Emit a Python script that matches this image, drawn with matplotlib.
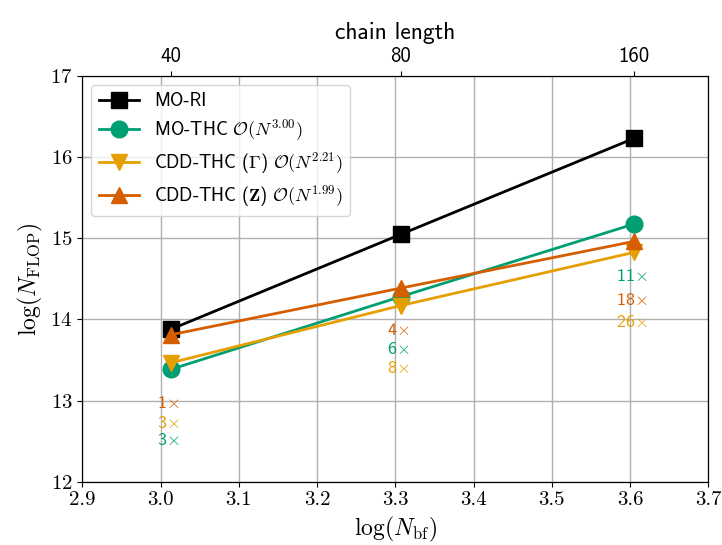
import numpy as np
import matplotlib
matplotlib.use("Agg")
import matplotlib.pyplot as plt

plt.rcParams['mathtext.fontset'] = 'cm'
plt.rcParams['font.family'] = 'serif'
plt.rcParams['font.serif'] = ['cmr10']
plt.rcParams['axes.formatter.use_mathtext'] = True

# data: log10 of basis functions for chain lengths 40, 80, 160
chain_length = [40, 80, 160]
log_nbf = [3.013, 3.307, 3.605]

mo_ri = [13.877, 15.047, 16.229]
mo_thc = [13.384, 14.280, 15.174]
cdd_gamma = [13.465, 14.170, 14.825]
cdd_z = [13.810, 14.385, 14.960]

# speedup labels (relative to MO-RI)
lab_z = ["1", "4", "18"]
lab_gamma = ["3", "8", "26"]
lab_thc = ["3", "6", "11"]

black = "black"
green = "#009E73"
yellow = "#E69F00"
orange = "#D55E00"

fig, ax = plt.subplots(figsize=(7.22, 5.45), dpi=100)
fig.subplots_adjust(left=0.114, right=0.981, top=0.861, bottom=0.116)

ax.plot(log_nbf, mo_ri, '-s', color=black, lw=2, ms=12, label="MO-RI")
ax.plot(log_nbf, mo_thc, '-o', color=green, lw=2, ms=12,
        label=r"MO-THC $\mathcal{O}(N^{3.00})$")
ax.plot(log_nbf, cdd_gamma, '-v', color=yellow, lw=2, ms=12,
        label=r"CDD-THC ($\boldsymbol{\Gamma}$) $\mathcal{O}(N^{2.21})$")
ax.plot(log_nbf, cdd_z, '-^', color=orange, lw=2, ms=12,
        label=r"CDD-THC ($\mathbf{Z}$) $\mathcal{O}(N^{1.99})$")

# speedup annotations
ann_y = [[12.97, 12.73, 12.51], [13.87, 13.63, 13.40], [14.53, 14.24, 13.97]]
ann_cols = {0: [orange, yellow, green], 1: [orange, green, yellow], 2: [green, orange, yellow]}
ann_txt = {0: [lab_z[0], lab_gamma[0], lab_thc[0]],
           1: [lab_z[1], lab_thc[1], lab_gamma[1]],
           2: [lab_thc[2], lab_z[2], lab_gamma[2]]}
for i in range(3):
    for j in range(3):
        ax.text(log_nbf[i] - 0.003, ann_y[i][j], ann_txt[i][j] + r"$\times$",
                color=ann_cols[i][j], fontsize=13, family='cmss10',
                ha='center', va='center')

ax.set_xlim(2.9, 3.7)
ax.set_ylim(12, 17)
ax.set_xticks(np.arange(2.9, 3.71, 0.1))
ax.set_xticklabels([f"{v:.1f}" for v in np.arange(2.9, 3.71, 0.1)])
ax.set_yticks([12, 13, 14, 15, 16, 17])
ax.tick_params(labelsize=15)
ax.grid(True, color='#b0b0b0', lw=1)
ax.set_xlabel(r"$\log(N_{\mathrm{bf}})$", fontsize=17)
ax.set_ylabel(r"$\log(N_{\mathrm{FLOP}})$", fontsize=17)

top = ax.twiny()
top.set_xlim(ax.get_xlim())
top.set_xticks(log_nbf)
top.set_xticklabels([str(c) for c in chain_length], family='cmss10')
top.tick_params(labelsize=15)
top.set_xlabel("chain length", fontsize=17, family='cmss10', labelpad=6)

leg = ax.legend(loc='upper left', prop={'family': 'cmss10', 'size': 13.2},
                handlelength=2.2, borderpad=0.4, labelspacing=0.4)

fig.savefig("out.png", dpi=100)
